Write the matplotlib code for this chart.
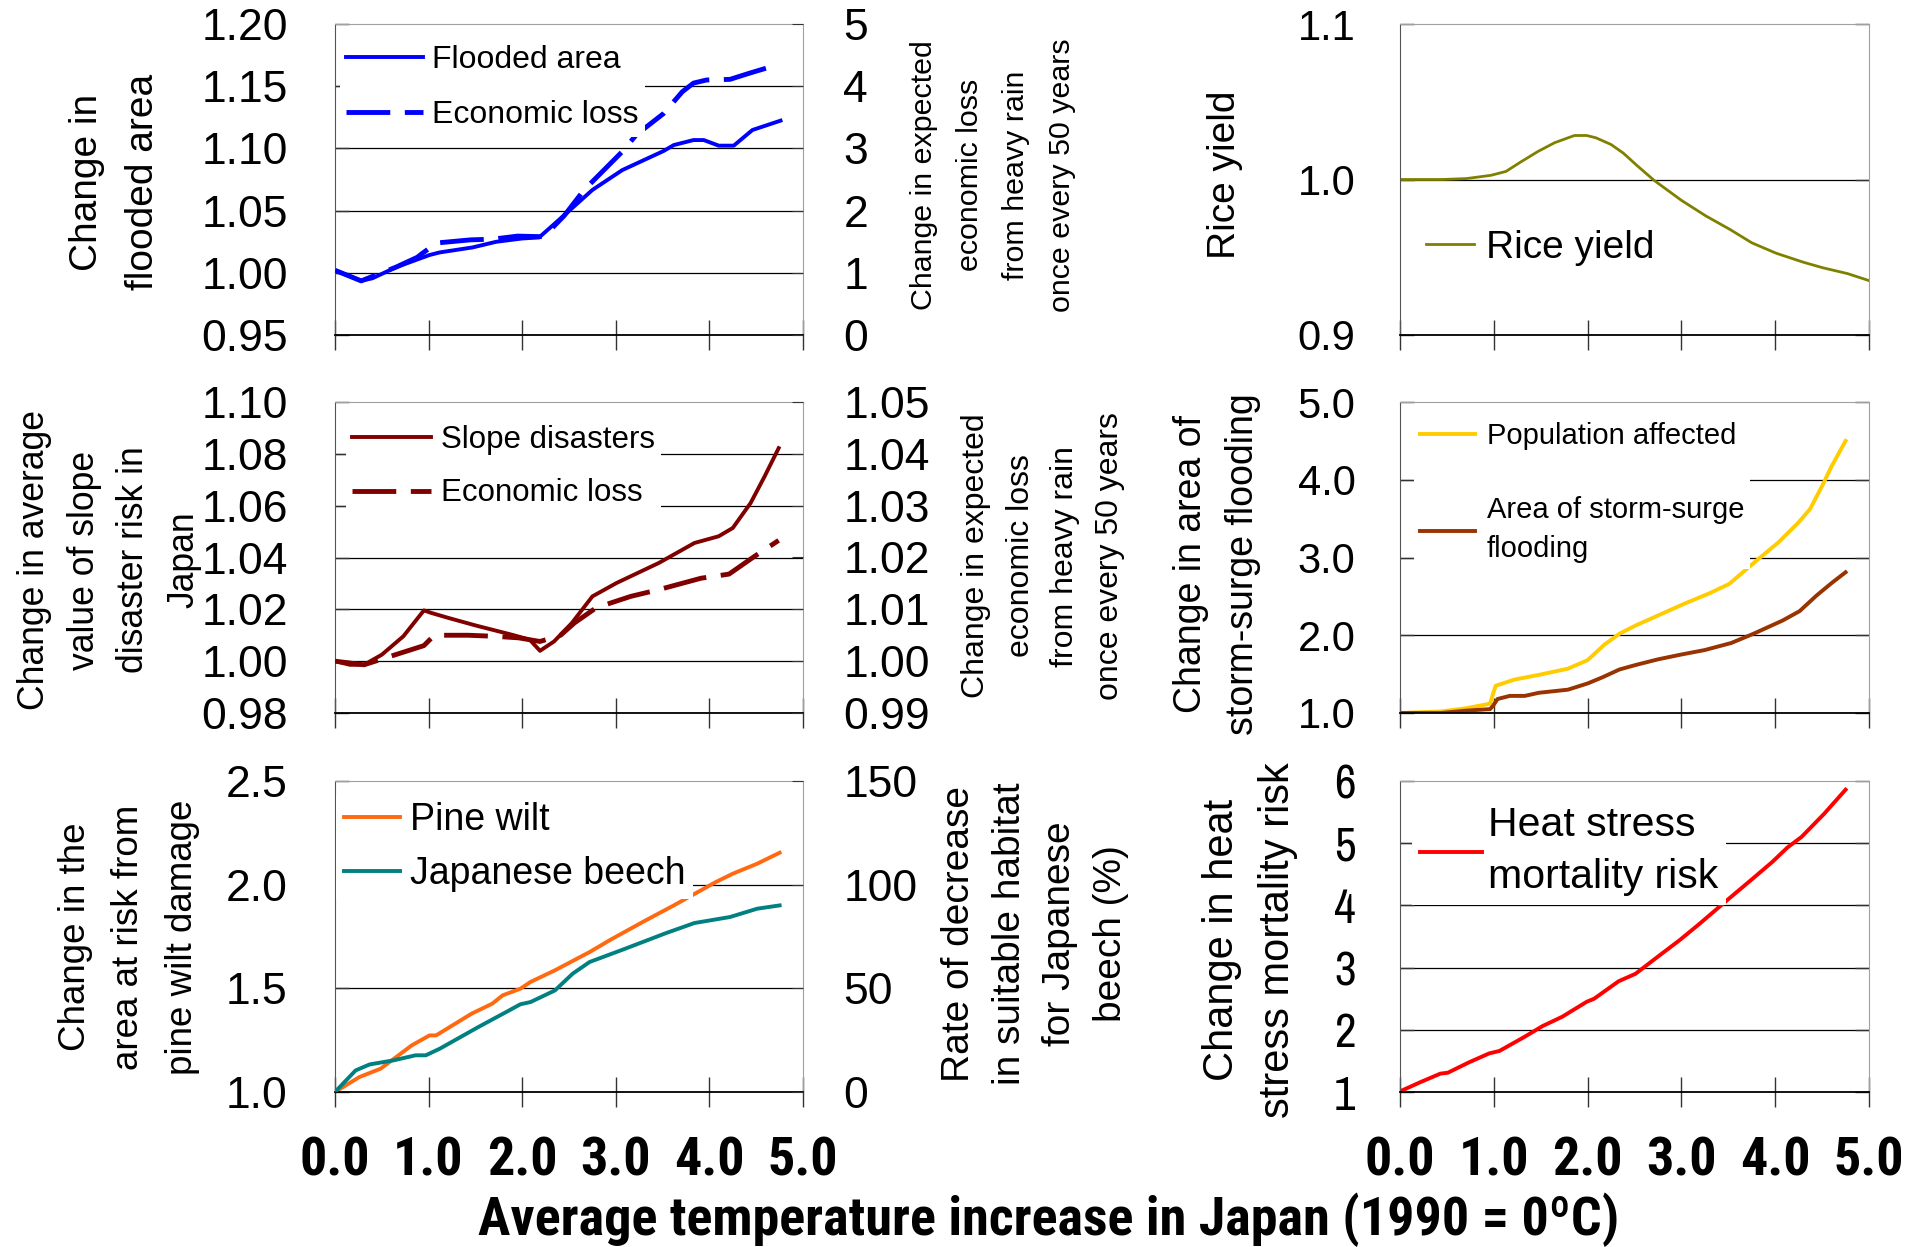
import matplotlib
matplotlib.use('Agg')
import matplotlib.pyplot as plt
from matplotlib import font_manager

# fonts
fonts = font_manager.fontManager.ttflist
names = {f.name for f in fonts}
bold_names = {f.name for f in fonts if isinstance(f.weight, int) and f.weight >= 700 or f.weight == 'bold'}


def pick(cands, pool):
    for c in cands:
        if c in pool:
            return c
    return 'Liberation Sans'


SANS = pick(['Liberation Sans', 'Arimo'], names)
NARROW = pick(['Archivo Narrow', 'Roboto Condensed', 'Asap Condensed'], names)
NARROW_B = pick(['Roboto Condensed', 'Archivo Narrow', 'Asap Condensed', 'Barlow Semi Condensed'], bold_names)

# ---- data (temperature increase, deg C) ----
temp_ticks = [0, 1, 2, 3, 4, 5]
temp_labels = ['0.0', '1.0', '2.0', '3.0', '4.0', '5.0']

flood_t = [0, 0.28, 0.40, 0.65, 1.01, 1.12, 1.47, 1.72, 2.0, 2.18, 2.43, 2.75, 3.07, 3.51, 3.62, 3.83, 3.94, 4.10, 4.26, 4.46, 4.76]
flood_v = [1.002, 0.9936, 0.9956, 1.0044, 1.0143, 1.0164, 1.0204, 1.0249, 1.0276, 1.0284, 1.045, 1.0666, 1.0826, 1.0979, 1.1027, 1.1067, 1.1067, 1.1022, 1.1022, 1.1148, 1.1223]
floss_t = [0, 0.28, 0.65, 0.88, 0.93, 1.09, 1.45, 1.68, 1.95, 2.23, 2.45, 2.66, 3.07, 3.22, 3.51, 3.71, 3.83, 3.97, 4.22, 4.43, 4.74]
floss_v = [1.04, 0.87, 1.09, 1.25, 1.31, 1.48, 1.53, 1.54, 1.59, 1.58, 1.92, 2.33, 2.95, 3.22, 3.56, 3.91, 4.05, 4.10, 4.11, 4.21, 4.35]

slope_t = [0, 0.16, 0.31, 0.5, 0.73, 0.95, 1.03, 1.21, 1.51, 1.89, 2.08, 2.19, 2.34, 2.53, 2.75, 3.01, 3.46, 3.84, 4.10, 4.25, 4.44, 4.59, 4.74]
slope_v = [1.0, 0.9986, 0.9986, 1.0025, 1.0096, 1.0196, 1.0186, 1.0167, 1.0137, 1.0102, 1.0083, 1.004, 1.0076, 1.0147, 1.025, 1.0302, 1.0379, 1.0456, 1.0482, 1.0514, 1.061, 1.0713, 1.0822]
sloss_t = [0, 0.31, 0.69, 0.95, 1.06, 1.42, 1.70, 1.96, 2.19, 2.41, 2.56, 2.79, 3.16, 3.46, 3.91, 4.21, 4.48, 4.74]
sloss_v = [1.0, 0.9993, 1.0015, 1.003, 1.005, 1.005, 1.0048, 1.0045, 1.0038, 1.005, 1.0074, 1.0103, 1.0125, 1.0138, 1.016, 1.0168, 1.0202, 1.0233]

pine_t = [0, 0.26, 0.49, 0.82, 1.01, 1.08, 1.46, 1.68, 1.79, 1.98, 2.09, 2.35, 2.72, 2.95, 3.32, 3.62, 4.07, 4.25, 4.51, 4.75]
pine_v = [1.0, 1.072, 1.113, 1.225, 1.273, 1.273, 1.378, 1.426, 1.466, 1.498, 1.531, 1.587, 1.675, 1.736, 1.828, 1.90, 2.013, 2.053, 2.101, 2.154]
beech_t = [0, 0.22, 0.37, 0.63, 0.86, 0.97, 1.12, 1.53, 1.83, 1.98, 2.09, 2.35, 2.54, 2.72, 3.10, 3.54, 3.84, 4.22, 4.51, 4.75]
beech_v = [0, 10.4, 13.3, 15.3, 17.7, 17.7, 20.9, 31.3, 38.6, 42.3, 43.4, 49, 57.1, 62.7, 69.1, 76.7, 81.5, 84.4, 88.4, 90]

rice_t = [0, 0.45, 0.71, 0.97, 1.13, 1.28, 1.47, 1.65, 1.86, 1.99, 2.09, 2.25, 2.38, 2.53, 2.71, 3.0, 3.26, 3.52, 3.75, 4.01, 4.30, 4.51, 4.77, 5.0]
rice_v = [1.0, 1.0, 1.0006, 1.0027, 1.0052, 1.011, 1.018, 1.0237, 1.0283, 1.0283, 1.0268, 1.0225, 1.017, 1.0088, 0.9994, 0.9866, 0.9766, 0.9678, 0.9593, 0.9526, 0.9468, 0.9432, 0.9395, 0.935]

pop_t = [0, 0.44, 0.70, 0.96, 0.99, 1.02, 1.22, 1.48, 1.79, 2.0, 2.18, 2.34, 2.52, 2.78, 3.04, 3.30, 3.51, 3.82, 4.03, 4.24, 4.37, 4.50, 4.60, 4.75]
pop_v = [1.0, 1.02, 1.06, 1.12, 1.24, 1.35, 1.43, 1.49, 1.57, 1.68, 1.88, 2.02, 2.13, 2.27, 2.41, 2.54, 2.66, 2.98, 3.19, 3.44, 3.62, 3.92, 4.17, 4.50]
surge_t = [0, 0.44, 0.70, 0.96, 0.99, 1.04, 1.17, 1.33, 1.48, 1.79, 2.0, 2.16, 2.34, 2.52, 2.75, 2.99, 3.25, 3.53, 3.77, 4.08, 4.26, 4.44, 4.60, 4.75]
surge_v = [1.0, 1.0, 1.03, 1.05, 1.09, 1.18, 1.22, 1.22, 1.26, 1.30, 1.38, 1.46, 1.56, 1.62, 1.69, 1.75, 1.81, 1.90, 2.02, 2.19, 2.31, 2.51, 2.67, 2.81]

heat_t = [0, 0.22, 0.43, 0.51, 0.74, 0.95, 1.06, 1.32, 1.52, 1.73, 1.99, 2.07, 2.33, 2.51, 2.77, 2.98, 3.19, 3.50, 3.76, 3.97, 4.13, 4.28, 4.52, 4.75]
heat_v = [1.01, 1.16, 1.295, 1.31, 1.48, 1.62, 1.66, 1.88, 2.06, 2.21, 2.45, 2.50, 2.78, 2.90, 3.20, 3.44, 3.70, 4.10, 4.43, 4.70, 4.93, 5.10, 5.47, 5.86]

W, H = 1915, 1247
fig = plt.figure(figsize=(W / 100, H / 100), dpi=100)


def px(x, y):
    return x / W, 1 - y / H


def make_ax(x0, y0, x1, y1, ylim, yticks, ylabels, font, size, pad, xlabels=False):
    ax = fig.add_axes([x0 / W, 1 - y1 / H, (x1 - x0) / W, (y1 - y0) / H])
    ax.set_xlim(0, 5)
    ax.set_ylim(*ylim)
    ax.set_xticks(temp_ticks)
    ax.set_yticks(yticks)
    ax.set_yticklabels(ylabels, fontfamily=font, fontsize=size)
    if xlabels:
        ax.set_xticklabels(temp_labels, fontfamily=NARROW_B, fontweight='bold', fontsize=39)
    else:
        ax.set_xticklabels([])
    ax.tick_params(axis='x', direction='inout', length=22, width=1, color='#333333', pad=20)
    ax.tick_params(axis='y', direction='in', length=10, width=1, color='#333333', pad=pad)
    ax.grid(axis='y', color='black', lw=0.9)
    ax.yaxis.get_major_ticks()[-1].gridline.set_visible(False)
    ax.spines['bottom'].set_color('black')
    ax.spines['bottom'].set_linewidth(1.3)
    ax.spines['left'].set_color('#555555')
    for s in ['top', 'right']:
        ax.spines[s].set_color('#a0a0a0')
    return ax


def twin(ax, ylim, yticks, ylabels):
    ax2 = ax.twinx()
    ax2.set_ylim(*ylim)
    ax2.set_yticks(yticks)
    ax2.set_yticklabels(ylabels, fontfamily=SANS, fontsize=32)
    ax2.tick_params(axis='y', direction='in', length=8, color='#333333', pad=29)
    for s in ax2.spines.values():
        s.set_visible(False)
    return ax2


def legend(ax, handles, anchor, fs, hl, htp, ls, text_ls=None):
    lg = ax.legend(handles=handles, loc='upper left', bbox_to_anchor=anchor,
                   prop={'family': SANS, 'size': fs}, frameon=True, facecolor='white',
                   edgecolor='none', fancybox=False, framealpha=1, borderpad=0.2,
                   borderaxespad=0, handlelength=hl, handletextpad=htp, labelspacing=ls)
    lg.set_zorder(10)
    if text_ls:
        for t in lg.get_texts():
            t.set_linespacing(text_ls)
    return lg


def ylab(text, x, y, size, ls=1.2):
    fx, fy = px(x, y)
    fig.text(fx, fy, text, rotation=90, ha='center', va='center', ma='center',
             fontfamily=SANS, fontsize=size, linespacing=ls)


LX0, LX1 = 335, 803
RX0, RX1 = 1400, 1869
ROWS = [(24, 335), (402, 713), (781, 1092)]
LW = 2.8
loss_label = 'Change in expected\neconomic loss\nfrom heavy rain\nonce every 50 years'

# --- flooded area ---
ax = make_ax(LX0, ROWS[0][0], LX1, ROWS[0][1], (0.95, 1.20), [0.95, 1.00, 1.05, 1.10, 1.15, 1.20],
             ['0.95', '1.00', '1.05', '1.10', '1.15', '1.20'], SANS, 32, 34)
ax2 = twin(ax, (0, 5), [0, 1, 2, 3, 4, 5], ['0', '1', '2', '3', '4', '5'])
l1, = ax.plot(flood_t, flood_v, color='#0000ff', lw=LW, label='Flooded area')
l2, = ax2.plot(floss_t, floss_v, color='#0000ff', lw=3.5, ls=(0, (9, 3)), label='Economic loss')
legend(ax2, [l1, l2], (0.01, 0.952), 23, 2.4, 0.28, 0.78)
ylab('Change in\nflooded area', 115, 182, 28, 1.74)
ylab(loss_label, 993, 175, 21.9, 1.82)

# --- slope disasters ---
ax = make_ax(LX0, ROWS[1][0], LX1, ROWS[1][1], (0.98, 1.10), [0.98, 1.00, 1.02, 1.04, 1.06, 1.08, 1.10],
             ['0.98', '1.00', '1.02', '1.04', '1.06', '1.08', '1.10'], SANS, 32, 34)
ax2 = twin(ax, (0.99, 1.05), [0.99, 1.00, 1.01, 1.02, 1.03, 1.04, 1.05],
           ['0.99', '1.00', '1.01', '1.02', '1.03', '1.04', '1.05'])
l1, = ax.plot(slope_t, slope_v, color='#800000', lw=LW, label='Slope disasters')
l2, = ax2.plot(sloss_t, sloss_v, color='#800000', lw=3.5, ls=(0, (9, 3)), label='Economic loss')
legend(ax2, [l1, l2], (0.024, 0.945), 22.5, 2.5, 0.32, 0.74)
ylab('Change in average\nvalue of slope\ndisaster risk in\nJapan', 109, 560, 25.6, 1.55)
ylab(loss_label, 1043, 556, 23, 1.65)

# --- pine wilt / beech ---
ax = make_ax(LX0, ROWS[2][0], LX1, ROWS[2][1], (1.0, 2.5), [1.0, 1.5, 2.0, 2.5],
             ['1.0', '1.5', '2.0', '2.5'], SANS, 32, 34, xlabels=True)
ax2 = twin(ax, (0, 150), [0, 50, 100, 150], ['0', '50', '100', '150'])
l1, = ax.plot(pine_t, pine_v, color='#ff6a10', lw=LW, label='Pine wilt')
l2, = ax2.plot(beech_t, beech_v, color='#008080', lw=LW, label='Japanese beech')
legend(ax2, [l1, l2], (0.003, 0.955), 27, 1.5, 0.27, 0.46)
ylab('Change in the\narea at risk from\npine wilt damage', 129, 937, 26.5, 1.68)
ylab('Rate of decrease\nin suitable habitat\nfor Japanese\nbeech (%)', 1035, 934, 28, 1.53)

# --- rice yield ---
ax = make_ax(RX0, ROWS[0][0], RX1, ROWS[0][1], (0.9, 1.1), [0.9, 1.0, 1.1],
             ['0.9', '1.0', '1.1'], SANS, 30, 32)
ax.tick_params(axis='y', right=True)
l1, = ax.plot(rice_t, rice_v, color='#808000', lw=2.0, label='Rice yield')
legend(ax, [l1], (0.038, 0.364), 28, 1.25, 0.3, 0.5)
ylab('Rice yield', 1225, 175, 28)

# --- storm surge ---
ax = make_ax(RX0, ROWS[1][0], RX1, ROWS[1][1], (1.0, 5.0), [1.0, 2.0, 3.0, 4.0, 5.0],
             ['1.0', '2.0', '3.0', '4.0', '5.0'], SANS, 30, 32)
ax.tick_params(axis='y', right=True)
l1, = ax.plot(pop_t, pop_v, color='#ffcc00', lw=LW, label='Population affected')
l2, = ax.plot(surge_t, surge_v, color='#993300', lw=LW, label='Area of storm-surge\nflooding')
legend(ax, [l1, l2], (0.030, 0.955), 21, 1.9, 0.4, 1.6, text_ls=1.5)
ylab('Change in area of\nstorm-surge flooding', 1217, 564, 27, 1.58)

# --- heat stress ---
ax = make_ax(RX0, ROWS[2][0], RX1, ROWS[2][1], (1, 6), [1, 2, 3, 4, 5, 6],
             ['1', '2', '3', '4', '5', '6'], NARROW, 34, 32, xlabels=True)
ax.tick_params(axis='y', right=True)
l1, = ax.plot(heat_t, heat_v, color='#ff0000', lw=LW, label='Heat stress\nmortality risk')
legend(ax, [l1], (0.026, 0.945), 29.5, 1.5, 0.15, 0.5, text_ls=1.47)
ylab('Change in heat\nstress mortality risk', 1250, 940, 30, 1.54)

fx, fy = px(1049, 1220)
fig.text(fx, fy, 'Average temperature increase in Japan (1990 = 0ºC)', ha='center', va='center',
         fontfamily=NARROW_B, fontweight='bold', fontsize=39)

fig.savefig('out.png', dpi=100)
